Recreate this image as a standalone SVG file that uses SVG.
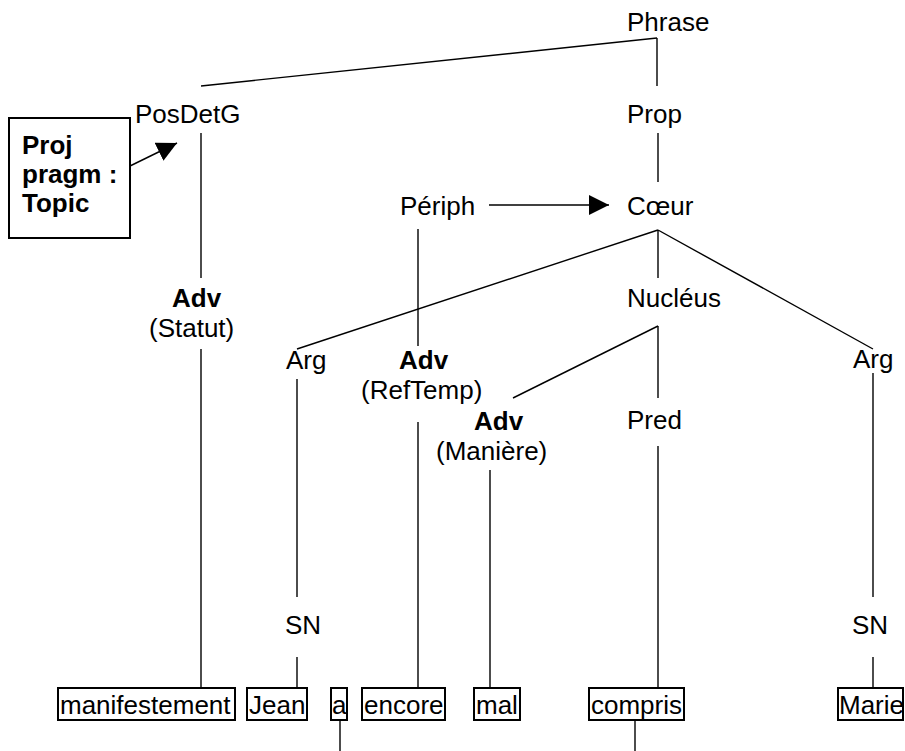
<svg xmlns="http://www.w3.org/2000/svg" width="905" height="751" viewBox="0 0 905 751">
<style>
text{font-family:"Liberation Sans",Arial,sans-serif;font-size:26px;fill:#000}
.b{font-weight:bold}
.ln{stroke:#000;stroke-width:1.4;fill:none}
.bx{stroke:#000;stroke-width:2;fill:#fff}
</style>
<defs>
<marker id="ah" markerUnits="userSpaceOnUse" markerWidth="20" markerHeight="20" refX="20" refY="10" orient="auto" viewBox="0 0 20 20">
<path d="M0,0 L20,10 L0,20 z" fill="#000"/>
</marker>
</defs>
<rect width="905" height="751" fill="#fff"/>
<g id="connectors">
<path class="ln" d="M657,38 L201,86"/>
<path class="ln" d="M657,38 V86"/>
<path class="ln" d="M658,133 V182"/>
<path class="ln" d="M201,133 V278"/>
<path class="ln" d="M201,349 V688"/>
<path class="ln" d="M130,166 L177,143" marker-end="url(#ah)"/>
<path class="ln" d="M489,205 H609" marker-end="url(#ah)"/>
<path class="ln" d="M418,229 V346"/>
<path class="ln" d="M418,422 V688"/>
<path class="ln" d="M658,230 L297,349"/>
<path class="ln" d="M658,230 V278"/>
<path class="ln" d="M658,230 L873,349"/>
<path class="ln" d="M658,326 L513,398"/>
<path class="ln" d="M658,326 V398"/>
<path class="ln" d="M658,446 V688"/>
<path class="ln" d="M490,470 V688"/>
<path class="ln" d="M297,379 V597"/>
<path class="ln" d="M297,657 V688"/>
<path class="ln" d="M873,373 V597"/>
<path class="ln" d="M873,657 V688"/>
<path class="ln" d="M340,720 V751"/>
<path class="ln" d="M635,720 V751"/>
</g>
<g id="phrase"><text x="627" y="31">Phrase</text></g>
<g id="prop"><text x="627" y="123">Prop</text></g>
<g id="posdetg"><text x="135" y="123">PosDetG</text></g>
<g id="proj">
<rect class="bx" x="9" y="118" width="121" height="120"/>
<text class="b" x="22" y="154">Proj</text>
<text class="b" x="22" y="183">pragm :</text>
<text class="b" x="22" y="212">Topic</text>
</g>
<g id="periph"><text x="400" y="215">Périph</text></g>
<g id="coeur"><text x="627" y="215">Cœur</text></g>
<g id="nucleus"><text x="627" y="307">Nucléus</text></g>
<g id="adv-statut">
<text class="b" x="172" y="307">Adv</text>
<text x="149" y="337">(Statut)</text>
</g>
<g id="arg1"><text x="286" y="369">Arg</text></g>
<g id="adv-reftemp">
<text class="b" x="399" y="369">Adv</text>
<text x="361" y="399">(RefTemp)</text>
</g>
<g id="arg2"><text x="853" y="368">Arg</text></g>
<g id="adv-maniere">
<text class="b" x="474" y="430">Adv</text>
<text x="436" y="460">(Manière)</text>
</g>
<g id="pred"><text x="627" y="429">Pred</text></g>
<g id="sn1"><text x="285" y="634">SN</text></g>
<g id="sn2"><text x="852" y="634">SN</text></g>
<g id="w-manifestement"><rect class="bx" x="58" y="688" width="177" height="32"/><text x="60" y="714">manifestement</text></g>
<g id="w-jean"><rect class="bx" x="247" y="688" width="60" height="32"/><text x="249" y="714">Jean</text></g>
<g id="w-a"><rect class="bx" x="331" y="688" width="16" height="32"/><text x="332" y="714">a</text></g>
<g id="w-encore"><rect class="bx" x="362" y="688" width="83" height="32"/><text x="364" y="714">encore</text></g>
<g id="w-mal"><rect class="bx" x="474" y="688" width="46" height="32"/><text x="476" y="714">mal</text></g>
<g id="w-compris"><rect class="bx" x="589" y="688" width="95" height="32"/><text x="591" y="714">compris</text></g>
<g id="w-marie"><rect class="bx" x="838" y="688" width="65" height="32"/><text x="839" y="714">Marie</text></g>
</svg>
